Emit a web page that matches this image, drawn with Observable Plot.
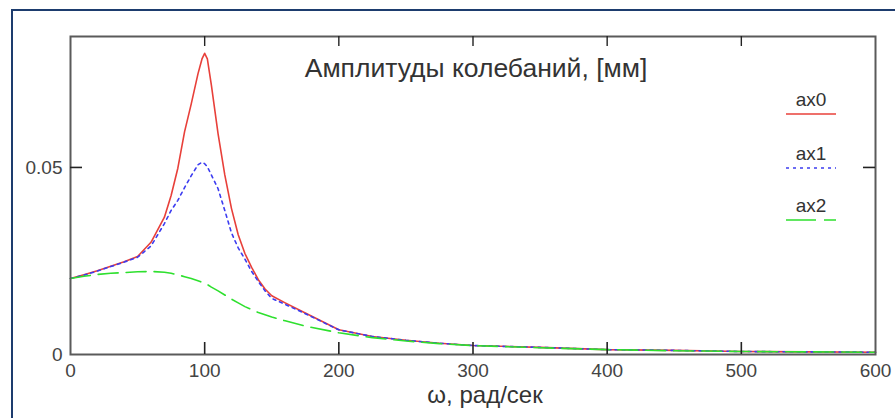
<!DOCTYPE html>
<html>
<head>
<meta charset="utf-8">
<script src="https://cdn.jsdelivr.net/npm/d3@7"></script>
<script src="https://cdn.jsdelivr.net/npm/@observablehq/plot@0.6"></script>
<style>
  body { margin: 0; background: #fff; }
  #wrap { position: relative; width: 895px; height: 418px; overflow: hidden; background: #fff; }
  #border { position: absolute; left: 11px; top: 9px; width: 900px; height: 420px;
            border-left: 2px solid #1d3c6e; border-top: 2px solid #1d3c6e; }
  #chart { position: absolute; left: 0; top: 0; }
  .leg { position: absolute; width: 60px; text-align: center; font-family: "Liberation Sans", Arial, sans-serif;
         font-size: 19px; line-height: 20px; color: #333; }
  .leg svg { display: block; margin: 1px auto 0 auto; }
</style>
</head>
<body>
<div id="wrap">
  <div id="border"></div>
  <div id="chart"></div>
</div>
<script>
const omega = [0, 10, 20, 30, 40, 50, 60, 70, 75, 80, 85, 90, 95, 98, 100, 102, 105, 110, 115, 120, 125, 130, 135, 140, 145, 150, 160, 175, 200, 225, 250, 275, 300, 350, 400, 450, 500, 550, 600];
const ax0 = [0.0203, 0.0213, 0.0224, 0.0236, 0.0248, 0.0262, 0.0300, 0.0367, 0.0425, 0.0498, 0.0595, 0.0670, 0.0750, 0.0790, 0.0805, 0.0790, 0.0720, 0.0590, 0.0480, 0.0390, 0.0320, 0.0270, 0.0233, 0.0200, 0.0175, 0.0157, 0.0138, 0.0111, 0.0066, 0.0048, 0.0038, 0.0030, 0.0024, 0.0019, 0.0013, 0.0011, 0.0008, 0.0007, 0.0006];
const ax1 = [0.0203, 0.0212, 0.0223, 0.0235, 0.0247, 0.0260, 0.0290, 0.0350, 0.0385, 0.0412, 0.0446, 0.0478, 0.0507, 0.0514, 0.0510, 0.0502, 0.0480, 0.0443, 0.0385, 0.0325, 0.0285, 0.0255, 0.0222, 0.0195, 0.0170, 0.0150, 0.0134, 0.0109, 0.0066, 0.0048, 0.0038, 0.0030, 0.0024, 0.0019, 0.0013, 0.0011, 0.0008, 0.0007, 0.0006];
const ax2 = [0.0203, 0.0209, 0.0214, 0.0217, 0.0219, 0.0221, 0.0222, 0.0220, 0.0217, 0.0213, 0.0208, 0.0203, 0.0197, 0.0193, 0.0190, 0.0187, 0.0180, 0.0170, 0.0159, 0.0148, 0.0138, 0.0128, 0.0120, 0.0112, 0.0106, 0.0100, 0.0090, 0.0076, 0.0058, 0.0045, 0.0036, 0.0029, 0.0024, 0.0018, 0.0013, 0.0010, 0.0008, 0.0007, 0.0006];
const seriesNames = ["ax0", "ax1", "ax2"];
const seriesColors = ["#e8403a", "#3c3cf0", "#2ee02e"];
const seriesDash = [null, "3,4", "20,8"];
const xTicks = [0, 100, 200, 300, 400, 500, 600];
const yTicks = [0, 0.05];
const yTickLabels = ["0", "0.05"];
const titleText = "Амплитуды колебаний, [мм]";
const xLabel = "ω, рад/сек";

const rows = (vals) => omega.map((w, i) => ({w, v: vals[i]}));
const allSeries = [ax0, ax1, ax2];

const tickFont = '"Liberation Sans Narrow", "Liberation Sans", Arial, sans-serif';
const W = 895, H = 418, mL = 70, mR = 20, mT = 36, mB = 64;
const innerW = W - mL - mR, innerH = H - mT - mB;

const marks = [];
allSeries.forEach((vals, k) => {
  marks.push(Plot.line(rows(vals), {x: "w", y: "v", stroke: seriesColors[k], strokeWidth: 1.6,
    strokeDasharray: seriesDash[k], curve: "linear"}));
});
const innerX = xTicks.slice(1, -1);
const innerY = yTicks.slice(1);
marks.push(
  Plot.frame({stroke: "#5a5a5a", strokeWidth: 2}),
  // inward ticks
  Plot.tickX(innerX, {x: (d) => d, insetTop: innerH - 12, stroke: "#222", strokeWidth: 1.6}),
  Plot.tickX(innerX, {x: (d) => d, insetBottom: innerH - 10, stroke: "#222", strokeWidth: 1.4}),
  Plot.tickY(innerY, {y: (d) => d, insetRight: innerW - 12, stroke: "#222", strokeWidth: 1.6}),
  Plot.tickY(innerY, {y: (d) => d, insetLeft: innerW - 12, stroke: "#222", strokeWidth: 1.6}),
  Plot.axisX({anchor: "bottom", ticks: xTicks, tickSize: 0, tickPadding: 9, fontSize: 19, fill: "#444", label: null,
    fontFamily: tickFont}),
  Plot.axisY({anchor: "left", ticks: yTicks, tickSize: 0, tickPadding: 8, fontSize: 19, fill: "#444", label: null,
    fontFamily: tickFont, tickFormat: (d) => yTickLabels[yTicks.indexOf(d)]}),
  Plot.text([titleText], {frameAnchor: "top", lineAnchor: "middle", dy: 32, dx: 3, fontSize: 26.5, fill: "#333",
    fontFamily: '"Liberation Sans", Arial, sans-serif'}),
  Plot.text([xLabel], {frameAnchor: "bottom", lineAnchor: "middle", dy: 41, dx: 12, fontSize: 24, fill: "#333",
    fontFamily: '"Liberation Sans", Arial, sans-serif'})
);

const chart = Plot.plot({
  width: W,
  height: H,
  marginLeft: mL,
  marginRight: mR,
  marginTop: mT,
  marginBottom: mB,
  x: {domain: [0, 600]},
  y: {domain: [0, 0.085]},
  style: {background: "transparent", overflow: "visible"},
  marks
});
document.getElementById("chart").appendChild(chart);

// legend
const legTops = [90, 144, 196];
const wrap = document.getElementById("wrap");
seriesNames.forEach((name, k) => {
  const d = document.createElement("div");
  d.className = "leg";
  d.style.left = "781px";
  d.style.top = legTops[k] + "px";
  d.innerHTML = `${name}<svg width="50" height="6"><line x1="0" x2="50" y1="3" y2="3" stroke="${seriesColors[k]}" stroke-width="1.6" ${seriesDash[k] ? `stroke-dasharray="${k === 2 ? "30,8" : seriesDash[k]}"` : ""}/></svg>`;
  wrap.appendChild(d);
});
</script>
</body>
</html>
